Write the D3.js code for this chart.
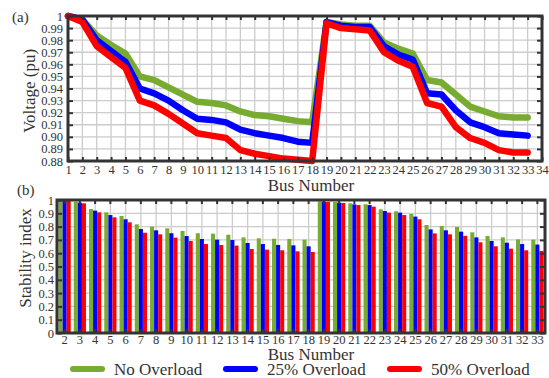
<!DOCTYPE html>
<html><head><meta charset="utf-8">
<script src="https://cdn.jsdelivr.net/npm/d3@7"></script>
<style>body{margin:0;background:#fff}svg text{font-family:"Liberation Serif",serif}</style>
</head><body><svg id="c" width="549" height="378" font-family="Liberation Serif"></svg>
<script>
const buses = d3.range(1, 34);
const voltNo  = [1.000,0.997,0.984,0.976,0.969,0.950,0.947,0.941,0.935,0.929,0.928,0.926,0.921,0.918,0.917,0.915,0.913,0.912,0.995,0.993,0.992,0.992,0.978,0.973,0.969,0.947,0.945,0.935,0.925,0.921,0.917,0.916,0.916];
const volt25  = [1.000,0.997,0.980,0.971,0.962,0.940,0.936,0.930,0.922,0.915,0.914,0.912,0.906,0.903,0.901,0.899,0.896,0.895,0.995,0.992,0.991,0.991,0.975,0.968,0.964,0.936,0.935,0.922,0.912,0.908,0.903,0.902,0.901];
const volt50  = [1.000,0.995,0.975,0.966,0.957,0.930,0.926,0.919,0.911,0.903,0.901,0.899,0.889,0.886,0.884,0.882,0.881,0.880,0.994,0.990,0.989,0.988,0.970,0.963,0.958,0.928,0.925,0.908,0.899,0.895,0.889,0.887,0.887];
const voltTicks = [1,0.99,0.98,0.97,0.96,0.95,0.94,0.93,0.92,0.91,0.90,0.89,0.88];
const voltTickLabels = ["1","0.99","0.98","0.97","0.96","0.95","0.94","0.93","0.92","0.91","0.90","0.89","0.88"];
const xTicksTop = d3.range(1, 35);

const siBuses = d3.range(2, 34);
const siNo = [0.997,0.987,0.932,0.907,0.880,0.817,0.800,0.787,0.767,0.750,0.747,0.739,0.719,0.712,0.709,0.707,0.702,0.990,0.985,0.975,0.968,0.930,0.915,0.895,0.812,0.805,0.797,0.757,0.729,0.719,0.704,0.702];
const si25 = [0.996,0.980,0.920,0.887,0.855,0.782,0.772,0.750,0.729,0.707,0.702,0.699,0.677,0.669,0.662,0.659,0.652,0.988,0.980,0.967,0.962,0.917,0.905,0.875,0.779,0.772,0.762,0.719,0.692,0.679,0.669,0.665];
const si50 = [0.995,0.975,0.907,0.870,0.832,0.754,0.742,0.717,0.692,0.669,0.662,0.657,0.632,0.627,0.622,0.614,0.609,0.985,0.978,0.962,0.950,0.905,0.887,0.855,0.749,0.742,0.731,0.682,0.652,0.634,0.622,0.617];
const siTicks = [0,0.1,0.2,0.3,0.4,0.5,0.6,0.7,0.8,0.9,1];
const siTickLabels = ["0","0.1","0.2","0.3","0.4","0.5","0.6","0.7","0.8","0.9","1"];

const seriesNames = ["No Overload","25% Overload","50% Overload"];
const colors = ["#77ac30","#0000ff","#ff0000"];

const FONT = "Liberation Serif";
const svg = d3.select("#c");
const frame = "#333", gridC = "#cccccc";

function txt(sel){ return sel.attr("font-family",FONT).attr("fill","#333"); }

// ---------- Panel (a)
const A = {l:68, r:542, t:16, b:161};
const xa = d3.scaleLinear().domain([1,34]).range([A.l, A.r]);
const ya = d3.scaleLinear().domain([0.88,1]).range([A.b, A.t]);
const ga = svg.append("g");
ga.selectAll(".vg").data(xTicksTop).join("line").attr("x1",d=>xa(d)).attr("x2",d=>xa(d)).attr("y1",A.t).attr("y2",A.b).attr("stroke",gridC).attr("stroke-width",1.3);
ga.selectAll(".hg").data(voltTicks).join("line").attr("y1",d=>ya(d)).attr("y2",d=>ya(d)).attr("x1",A.l).attr("x2",A.r).attr("stroke",gridC).attr("stroke-width",1.3);
const line = d3.line().x((d,i)=>xa(buses[i])).y(d=>ya(d));
[voltNo, volt25, volt50].forEach((s,k)=>{
  ga.append("path").datum(s).attr("d",line).attr("fill","none").attr("stroke",colors[k]).attr("stroke-width",6.5).attr("stroke-linejoin","round").attr("stroke-linecap","round");
});
const axA = [
  d3.axisBottom(xa).tickValues(xTicksTop).tickSize(-4).tickFormat(d3.format("d")),
  d3.axisTop(xa).tickValues(xTicksTop).tickSize(-4).tickFormat(""),
  d3.axisLeft(ya).tickValues(voltTicks).tickSize(-5).tickFormat((d,i)=>voltTickLabels[i]),
  d3.axisRight(ya).tickValues(voltTicks).tickSize(-5).tickFormat("")
];
const posA = [[0,A.b],[0,A.t],[A.l,0],[A.r,0]];
axA.forEach((ax,i)=>{
  const g = ga.append("g").attr("transform",`translate(${posA[i][0]},${posA[i][1]})`).call(ax);
  g.attr("font-family",FONT).attr("font-size",12.5);
  g.select(".domain").remove();
  g.selectAll("line").attr("stroke",frame).attr("stroke-width",2);
  txt(g.selectAll("text"));
  if(i===0) g.selectAll("text").attr("dy","0.55em").attr("y",6);
  if(i===2) g.selectAll("text").attr("x",-5);
});
ga.append("rect").attr("x",A.l).attr("y",A.t).attr("width",A.r-A.l).attr("height",A.b-A.t).attr("fill","none").attr("stroke",frame).attr("stroke-width",3);
txt(svg.append("text")).attr("x",12).attr("y",22).attr("font-size",15).text("(a)");
txt(svg.append("text")).attr("transform","translate(35,91) rotate(-90)").attr("text-anchor","middle").attr("font-size",17).text("Voltage (pu)");
txt(svg.append("text")).attr("x",311).attr("y",191).attr("text-anchor","middle").attr("font-size",17).text("Bus Number");

// ---------- Panel (b)
const B = {l:57, r:545, t:200, b:333};
const xb = d3.scaleBand().domain(siBuses).range([B.l, B.r]).paddingInner(0.2).paddingOuter(0.1);
const xs = d3.scaleBand().domain([0,1,2]).range([0, xb.bandwidth()]);
const yb = d3.scaleLinear().domain([0,1]).range([B.b, B.t]);
const gb = svg.append("g");
const cx = d=>xb(d)+xb.bandwidth()/2;
gb.selectAll(".vg").data(siBuses).join("line").attr("x1",cx).attr("x2",cx).attr("y1",B.t).attr("y2",B.b).attr("stroke",gridC).attr("stroke-width",1.3);
gb.selectAll(".hg").data(siTicks).join("line").attr("y1",d=>yb(d)).attr("y2",d=>yb(d)).attr("x1",B.l).attr("x2",B.r).attr("stroke",gridC).attr("stroke-width",1.3);
[siNo, si25, si50].forEach((s,k)=>{
  gb.selectAll(null).data(s).join("rect")
    .attr("x",(d,i)=>xb(siBuses[i])+xs(k)).attr("width",xs.bandwidth())
    .attr("y",d=>yb(d)).attr("height",d=>yb(0)-yb(d)).attr("fill",colors[k]);
});
const axB = [
  d3.axisBottom(xb).tickSize(-4),
  d3.axisTop(xb).tickSize(-4).tickFormat(""),
  d3.axisLeft(yb).tickValues(siTicks).tickSize(-5).tickFormat((d,i)=>siTickLabels[i]),
  d3.axisRight(yb).tickValues(siTicks).tickSize(-5).tickFormat("")
];
const posB = [[0,B.b],[0,B.t],[B.l,0],[B.r,0]];
axB.forEach((ax,i)=>{
  const g = gb.append("g").attr("transform",`translate(${posB[i][0]},${posB[i][1]})`).call(ax);
  g.attr("font-family",FONT).attr("font-size",12.5);
  g.select(".domain").remove();
  g.selectAll("line").attr("stroke",frame).attr("stroke-width",2);
  txt(g.selectAll("text"));
  if(i===0) g.selectAll("text").attr("dy","0.55em").attr("y",4);
  if(i===2) g.selectAll("text").attr("x",-3);
});
gb.append("rect").attr("x",B.l).attr("y",B.t).attr("width",B.r-B.l).attr("height",B.b-B.t).attr("fill","none").attr("stroke",frame).attr("stroke-width",3);
txt(svg.append("text")).attr("x",17).attr("y",195).attr("font-size",15).text("(b)");
txt(svg.append("text")).attr("transform","translate(31,258) rotate(-90)").attr("text-anchor","middle").attr("font-size",17).text("Stability index");
txt(svg.append("text")).attr("x",311).attr("y",360).attr("text-anchor","middle").attr("font-size",17).text("Bus Number");

// ---------- Legend
const legX = [73, 226, 390];
seriesNames.forEach((n,k)=>{
  svg.append("line").attr("x1",legX[k]).attr("x2",legX[k]+29).attr("y1",369).attr("y2",369).attr("stroke",colors[k]).attr("stroke-width",6).attr("stroke-linecap","round");
  txt(svg.append("text")).attr("x",legX[k]+41).attr("y",375).attr("font-size",17).text(n);
});
</script></body></html>
